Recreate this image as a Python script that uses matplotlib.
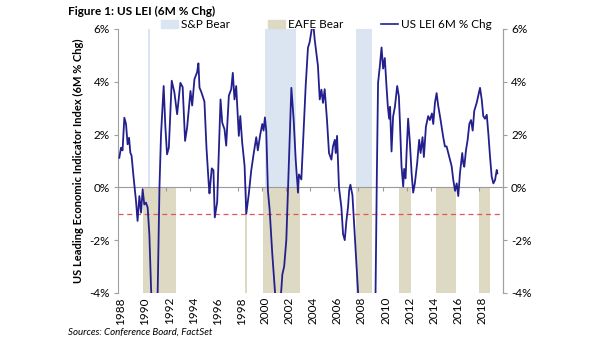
import matplotlib.pyplot as plt
from matplotlib.lines import Line2D
from matplotlib.patches import Patch

plt.rcParams['font.family'] = ['Lato', 'DejaVu Sans']

# US LEI 6M % change (decimal year, value in %)
lei_year = [
    1988.11, 1988.25, 1988.38, 1988.53, 1988.67, 1988.80, 1988.92, 1989.03, 1989.13, 1989.30,
    1989.50, 1989.63, 1989.78, 1989.92, 1990.05, 1990.19, 1990.33, 1990.47, 1990.61, 1990.75,
    1990.86, 1991.03, 1991.19, 1991.30, 1991.45, 1991.58, 1991.80, 1991.94, 1992.08, 1992.23,
    1992.47, 1992.69, 1992.92, 1993.19, 1993.38, 1993.58, 1993.75, 1994.03, 1994.17, 1994.36,
    1994.58, 1994.69, 1994.78, 1994.94, 1995.19, 1995.36, 1995.55, 1995.61, 1995.80, 1995.94,
    1996.05, 1996.25, 1996.40, 1996.53, 1996.67, 1996.86, 1997.00, 1997.22, 1997.42, 1997.55,
    1997.69, 1997.83, 1998.05, 1998.17, 1998.33, 1998.53, 1998.67, 1998.88, 1999.08, 1999.28,
    1999.50, 1999.63, 1999.83, 2000.00, 2000.11, 2000.22, 2000.33, 2000.47, 2000.61, 2000.83,
    2001.03, 2001.19, 2001.40, 2001.58, 2001.67, 2001.82, 2002.00, 2002.28, 2002.42, 2002.61,
    2002.78, 2002.97, 2003.05, 2003.25, 2003.38, 2003.61, 2003.80, 2003.94, 2004.22, 2004.36,
    2004.63, 2004.78, 2004.92, 2005.05, 2005.19, 2005.38, 2005.55, 2005.75, 2005.88, 2006.03,
    2006.11, 2006.22, 2006.38, 2006.58, 2006.72, 2006.86, 2007.00, 2007.13, 2007.23, 2007.33,
    2007.50, 2007.69, 2007.97, 2008.28, 2008.78, 2009.19, 2009.42, 2009.53, 2009.63, 2009.78,
    2009.92, 2010.05, 2010.19, 2010.33, 2010.44, 2010.55, 2010.63, 2010.75, 2010.88, 2011.03,
    2011.22, 2011.36, 2011.44, 2011.58, 2011.72, 2011.80, 2011.92, 2012.00, 2012.13, 2012.28,
    2012.42, 2012.55, 2012.69, 2012.88, 2013.05, 2013.17, 2013.33, 2013.44, 2013.61, 2013.80,
    2013.94, 2014.11, 2014.22, 2014.36, 2014.50, 2014.63, 2014.83, 2015.05, 2015.19, 2015.33,
    2015.47, 2015.75, 2015.88, 2016.03, 2016.17, 2016.30, 2016.44, 2016.63, 2016.72, 2016.80,
    2016.94, 2017.08, 2017.22, 2017.36, 2017.50, 2017.63, 2017.83, 2018.11, 2018.25, 2018.38,
    2018.52, 2018.67, 2018.80, 2018.94, 2019.08, 2019.22, 2019.36, 2019.50, 2019.55,
]
lei_chg = [
    1.12, 1.50, 1.40, 2.64, 2.40, 1.63, 1.88, 1.31, 1.20, 0.37,
    -0.52, -1.27, -0.33, -0.96, -0.08, -0.65, -0.58, -0.77, -1.78, -3.80,
    -5.00, -5.60, -5.00, -4.00, 0.00, 2.00, 3.84, 2.30, 1.25, 1.50,
    4.04, 3.60, 2.77, 3.96, 3.80, 1.76, 2.27, 3.65, 3.10, 4.10,
    4.36, 4.70, 3.78, 3.60, 3.25, 1.50, 0.11, -0.23, 0.72, 0.65,
    -1.14, -0.56, 1.50, 3.33, 2.45, 2.20, 1.58, 3.47, 3.72, 4.34,
    3.33, 3.84, 1.95, 2.70, 1.70, 0.81, -1.00, -0.25, 0.63, 1.26,
    1.90, 1.40, 2.00, 2.40, 2.15, 2.65, 2.15, -0.13, -0.83, -2.50,
    -3.80, -4.80, -4.80, -3.90, -3.30, -3.00, -2.00, 1.77, 3.77, 2.57,
    1.05, -0.20, 0.49, 0.30, 1.58, 3.84, 5.29, 5.50, 6.30, 5.60,
    4.60, 3.33, 3.70, 3.20, 3.72, 2.57, 1.30, 1.05, 1.55, 1.80,
    1.30, 1.95, 0.00, -0.76, -1.77, -2.00, -1.26, -0.76, -0.10, 0.10,
    -0.30, -1.80, -4.00, -6.00, -7.00, -5.00, -4.00, 0.50, 3.96, 4.60,
    5.30, 4.50, 4.90, 3.84, 3.08, 2.60, 3.05, 1.36, 2.68, 3.05,
    3.84, 3.45, 2.57, 0.80, 0.03, 0.70, 0.34, 1.30, 2.60, 1.67,
    0.53, -0.20, 0.15, 0.91, 1.80, 1.30, 1.90, 1.15, 2.30, 2.70,
    2.55, 2.80, 2.40, 3.20, 3.57, 3.10, 2.55, 1.90, 1.55, 1.55,
    1.30, 0.80, 0.30, -0.13, 0.15, -0.33, 0.53, 1.30, 0.90, 0.78,
    1.40, 1.80, 2.40, 2.55, 2.15, 2.90, 3.20, 3.77, 3.33, 2.70,
    2.60, 2.75, 2.05, 1.17, 0.40, 0.15, 0.28, 0.66, 0.53,
]

# bear market periods (start, end)
sp_bear_start = [1990.53, 2000.19, 2007.78]
sp_bear_end = [1990.69, 2002.77, 2009.11]
eafe_bear_start = [1990.11, 1998.53, 2000.03, 2007.78, 2011.36, 2014.44, 2018.03]
eafe_bear_end = [1992.86, 1998.69, 2003.10, 2009.11, 2012.36, 2016.11, 2018.94]

year_ticks = list(range(1988, 2020, 2))
y_ticks = [-4, -2, 0, 2, 4, 6]

fig = plt.figure(figsize=(6.05, 3.41), dpi=100)
ax = fig.add_axes([0.195, 0.141, 0.636, 0.774])

sp_w = [e - s for s, e in zip(sp_bear_start, sp_bear_end)]
eafe_w = [e - s for s, e in zip(eafe_bear_start, eafe_bear_end)]
ax.bar(sp_bear_start, [6] * len(sp_bear_start), width=sp_w, align='edge',
       color='#DBE5F1', edgecolor='none', zorder=1)
ax.bar(eafe_bear_start, [-4] * len(eafe_bear_start), width=eafe_w, align='edge',
       color='#DDD9C3', edgecolor='none', zorder=1)

ax.axhline(0, color='#9A9A9A', lw=0.8, zorder=2)
ax.plot(year_ticks, [0] * len(year_ticks), ls='none', marker=3, ms=3,
        color='#9A9A9A', mew=0.8, zorder=2)
ax.axhline(-1, color='#E05555', lw=0.9, ls=(0, (4, 3)), zorder=2)
ax.plot(lei_year, lei_chg, color='#23208E', lw=1.3, zorder=3)

ax.set_xlim(1988, 2020)
ax.set_ylim(-4, 6)
ax.set_yticks(y_ticks)
ax.set_yticklabels(['%d%%' % v for v in y_ticks], fontsize=8.5)
ax.set_xticks([t + 0.25 for t in year_ticks])
ax.set_xticklabels([str(t) for t in year_ticks], rotation=90, fontsize=8.5)
ax.tick_params(axis='x', length=0, pad=3)
ax.tick_params(axis='y', length=3, color='#A0A0A0', pad=3)
for s in ['top', 'bottom']:
    ax.spines[s].set_visible(False)
for s in ['left', 'right']:
    ax.spines[s].set_color('#A0A0A0')
    ax.spines[s].set_linewidth(0.8)
ax.set_ylabel('US Leading Economic Indicator Index (6M % Chg)', fontsize=8,
              fontweight='bold', labelpad=4)

ax2 = ax.twinx()
ax2.set_ylim(-4, 6)
ax2.set_yticks(y_ticks)
ax2.set_yticklabels(['%d%%' % v for v in y_ticks], fontsize=8.5)
ax2.tick_params(axis='y', length=3, color='#A0A0A0', pad=3)
for s in ['top', 'bottom', 'left']:
    ax2.spines[s].set_visible(False)
ax2.spines['right'].set_color('#A0A0A0')
ax2.spines['right'].set_linewidth(0.8)

handles = [Patch(color='#DBE5F1'), Patch(color='#DDD9C3'),
           Line2D([], [], color='#23208E', lw=1.2)]
fig.legend(handles, ['S&P Bear', 'EAFE Bear', 'US LEI 6M % Chg'], ncol=3,
           loc='center', bbox_to_anchor=(0.54, 0.928), frameon=False,
           fontsize=8.5, handlelength=1.4, handletextpad=0.3, columnspacing=3.2,
           borderpad=0)

fig.text(0.112, 0.965, 'Figure 1: US LEI (6M % Chg)', fontsize=8.5,
         fontweight='bold', va='center')
fig.text(0.112, 0.025, 'Sources: Conference Board, FactSet', fontsize=7,
         style='italic', va='center')

fig.savefig('out.png', dpi=100)
